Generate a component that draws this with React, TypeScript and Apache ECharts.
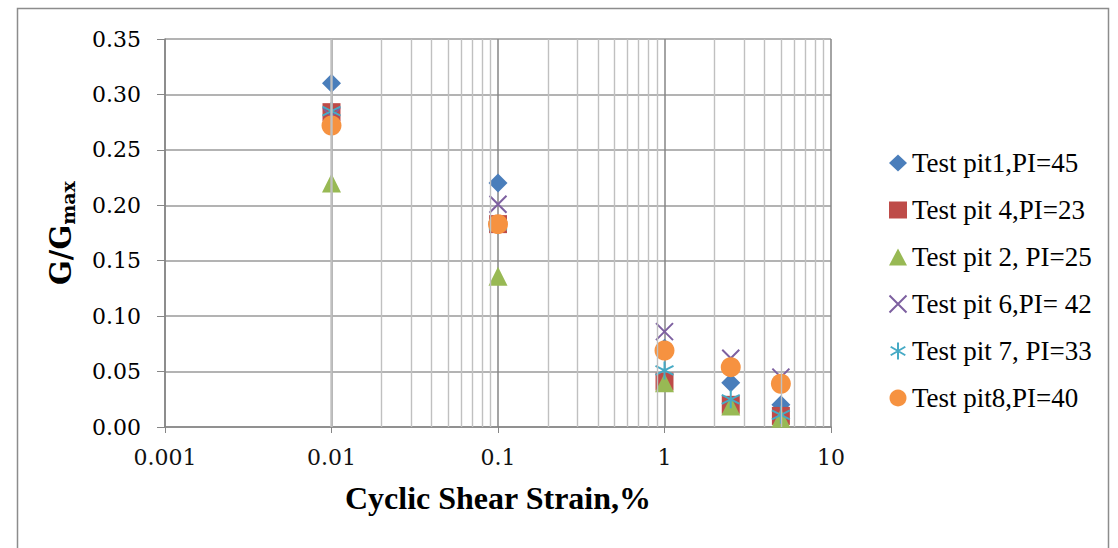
import React, { useEffect, useRef } from "react";
import * as echarts from "echarts";

const strain = [0.01, 0.1, 1, 2.5, 5];
const pit1 = [0.31, 0.22, 0.071, 0.04, 0.02];
const pit4 = [0.284, 0.183, 0.041, 0.02, 0.01];
const pit2 = [0.22, 0.136, 0.04, 0.019, 0.008];
const pit6 = [0.28, 0.201, 0.086, 0.062, 0.045];
const pit7 = [0.285, 0.182, 0.051, 0.025, 0.011];
const pit8 = [0.272, 0.183, 0.069, 0.054, 0.039];

const seriesNames = [
  "Test pit1,PI=45",
  "Test pit 4,PI=23",
  "Test pit 2, PI=25",
  "Test pit 6,PI= 42",
  "Test pit 7, PI=33",
  "Test pit8,PI=40",
];
const xTickLabels = ["0.001", "0.01", "0.1", "1", "10"];
const minorX = [
  0.002, 0.003, 0.004, 0.005, 0.006, 0.007, 0.008, 0.009,
  0.02, 0.03, 0.04, 0.05, 0.06, 0.07, 0.08, 0.09,
  0.2, 0.3, 0.4, 0.5, 0.6, 0.7, 0.8, 0.9,
  2, 3, 4, 5, 6, 7, 8, 9,
];

const X_PATH = "path://M0,0L10,10M10,0L0,10";
const AST_PATH = "path://M5,0L5,10M0.7,2.5L9.3,7.5M0.7,7.5L9.3,2.5";

const pair = (ys: number[]) => strain.map((x, i) => [x, ys[i]]);

export default function App() {
  const ref = useRef<HTMLDivElement>(null);
  useEffect(() => {
    const chart = echarts.init(ref.current!, null, { renderer: "svg" });
    const serif = "Liberation Serif";
    chart.setOption({
      animation: false,
      backgroundColor: "#ffffff",
      graphic: [
        {
          type: "rect",
          shape: { x: 17.5, y: 8.5, width: 1091, height: 560 },
          style: { fill: "none", stroke: "#8c8c8c", lineWidth: 1.5 },
          silent: true,
        },
      ],
      grid: { left: 165, right: 287, top: 39, bottom: 121 },
      legend: {
        orient: "vertical",
        left: 882,
        top: 144,
        itemWidth: 18,
        itemHeight: 17,
        itemGap: 19,
        data: seriesNames,
        textStyle: { fontFamily: serif, fontSize: 27, color: "#000", lineHeight: 28 },
      },
      xAxis: {
        type: "log",
        logBase: 10,
        min: 0.001,
        max: 10,
        name: "Cyclic Shear Strain,%",
        nameLocation: "middle",
        nameGap: 55,
        nameTextStyle: { fontFamily: serif, fontWeight: "bold", fontSize: 32, color: "#000" },
        axisLine: { show: true, lineStyle: { color: "#868686", width: 1.5 } },
        axisTick: { show: true, length: 6, lineStyle: { color: "#868686" } },
        axisLabel: {
          margin: 19,
          fontFamily: "DejaVu Serif",
          fontSize: 22,
          color: "#111",
          formatter: (v: number) => xTickLabels[Math.round(Math.log10(v)) + 3] ?? "",
        },
        splitLine: { show: true, lineStyle: { color: "#868686", width: 1.5 } },
      },
      yAxis: {
        type: "value",
        min: 0,
        max: 0.35,
        interval: 0.05,
        name: "{m|G/G}{s|max}",
        nameLocation: "middle",
        nameRotate: 90,
        nameGap: 88,
        nameTextStyle: {
          rich: {
            m: { fontFamily: "DejaVu Serif", fontWeight: "bold", fontSize: 29, color: "#000" },
            s: {
              fontFamily: "DejaVu Serif",
              fontWeight: "bold",
              fontSize: 19,
              color: "#000",
              padding: [14, 0, 0, 0],
            },
          },
        },
        axisLine: { show: true, lineStyle: { color: "#868686", width: 1.5 } },
        axisTick: { show: true, length: 8, lineStyle: { color: "#868686" } },
        axisLabel: {
          margin: 24,
          fontFamily: "DejaVu Serif",
          fontSize: 22,
          color: "#000",
          formatter: (v: number) => v.toFixed(2),
        },
        splitLine: { show: true, lineStyle: { color: "#9a9a9a", width: 1.5 } },
      },
      series: [
        {
          type: "scatter",
          name: "minor",
          data: [],
          silent: true,
          z: 1,
          markLine: {
            silent: true,
            symbol: ["none", "none"],
            label: { show: false },
            lineStyle: { color: "#c0c0c0", type: "solid", width: 1.4 },
            data: minorX.map((v) => ({ xAxis: v })),
          },
        },
        {
          type: "scatter",
          name: seriesNames[0],
          data: pair(pit1),
          symbol: "diamond",
          symbolSize: 19,
          itemStyle: { color: "#4a7ebb", opacity: 1 },
        },
        {
          type: "scatter",
          name: seriesNames[1],
          data: pair(pit4),
          symbol: "rect",
          symbolSize: 18,
          itemStyle: { color: "#be4b48", opacity: 1 },
        },
        {
          type: "scatter",
          name: seriesNames[2],
          data: pair(pit2),
          symbol: "triangle",
          symbolSize: 19,
          itemStyle: { color: "#98b954", opacity: 1 },
        },
        {
          type: "scatter",
          name: seriesNames[3],
          data: pair(pit6),
          symbol: X_PATH,
          symbolSize: 17,
          itemStyle: { color: "none", borderColor: "#7d60a0", borderWidth: 2, opacity: 1 },
        },
        {
          type: "scatter",
          name: seriesNames[4],
          data: pair(pit7),
          symbol: AST_PATH,
          symbolSize: 18,
          itemStyle: { color: "none", borderColor: "#46aac5", borderWidth: 2, opacity: 1 },
        },
        {
          type: "scatter",
          name: seriesNames[5],
          data: pair(pit8),
          symbol: "circle",
          symbolSize: 20,
          itemStyle: { color: "#f69240", opacity: 1 },
        },
      ],
    });
    return () => chart.dispose();
  }, []);
  return (
    <div
      ref={ref}
      style={{ position: "fixed", left: 0, top: 0, width: 1118, height: 548 }}
    />
  );
}
